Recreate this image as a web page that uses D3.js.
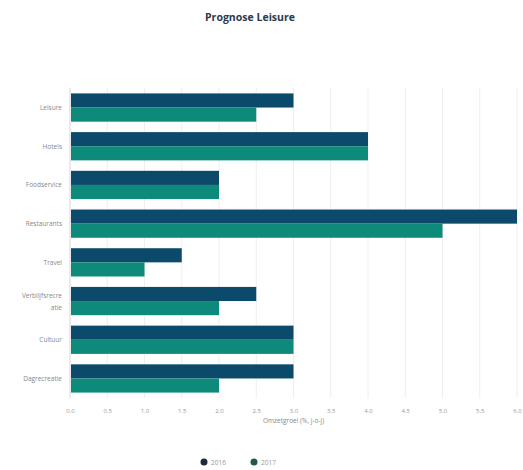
<!DOCTYPE html>
<html><head><meta charset="utf-8">
<script src="https://cdn.jsdelivr.net/npm/d3@7"></script>
<style>body{margin:0;background:#fff;} text{font-family:"Open Sans",sans-serif;}</style>
</head><body>
<svg id="c" width="523" height="470"></svg>
<script>
const categories = ["Leisure","Hotels","Foodservice","Restaurants","Travel","Verblijfsrecreatie","Cultuur","Dagrecreatie"];
const categoryLines = [["Leisure"],["Hotels"],["Foodservice"],["Restaurants"],["Travel"],["Verblijfsrecre","atie"],["Cultuur"],["Dagrecreatie"]];
const series2016 = [3.0,4.0,2.0,6.0,1.5,2.5,3.0,3.0];
const series2017 = [2.5,4.0,2.0,5.0,1.0,2.0,3.0,2.0];
const seriesNames = ["2016","2017"];
const colors = ["#0c4a6b","#0e8a7b"];
const tickValues = [0,0.5,1,1.5,2,2.5,3,3.5,4,4.5,5,5.5,6];
const title = "Prognose Leisure";
const xTitle = "Omzetgroei (%, j-o-j)";

const svg = d3.select("#c");
const m = {l:70, r:6, t:88, b:72};
const W = 523, H = 470;
const x = d3.scaleLinear().domain([0,6]).range([m.l, W-m.r]);
const y = d3.scaleBand().domain(categories).range([m.t, H-m.b]).paddingInner(0.27).paddingOuter(0.14);
const ys = d3.scaleBand().domain(seriesNames).range([0, y.bandwidth()]);

svg.append("text").attr("x", 250).attr("y", 21).attr("text-anchor","middle")
  .attr("font-size", 11).attr("font-weight", 700).attr("fill","#2b3a4a")
  .attr("textLength", 90).attr("lengthAdjust","spacingAndGlyphs")
  .style("font-family","'Open Sans',sans-serif").text(title);

// grid
svg.append("g").selectAll("line").data(tickValues).join("line")
  .attr("x1", d=>x(d)).attr("x2", d=>x(d)).attr("y1", m.t).attr("y2", H-m.b)
  .attr("stroke","#eeeeee").attr("stroke-width",1);

// x axis
const xa = svg.append("g").attr("transform",`translate(0,${H-m.b})`)
  .call(d3.axisBottom(x).tickValues(tickValues).tickFormat(d3.format(".1f")).tickSize(0).tickPadding(11));
xa.select(".domain").remove();
xa.selectAll("text").attr("font-size",6).attr("fill","#999");

svg.append("text").attr("x", (m.l + W - m.r)/2).attr("y", H-m.b+25).attr("text-anchor","middle")
  .attr("font-size",6.5).attr("fill","#888").text(xTitle);

// y axis line
svg.append("line").attr("x1", m.l).attr("x2", m.l).attr("y1", m.t).attr("y2", H-m.b).attr("stroke","#ddd");

// y labels
const yl = svg.append("g");
categories.forEach((c,i)=>{
  const lines = categoryLines[i];
  const cy = y(c) + y.bandwidth()/2;
  const t = yl.append("text").attr("x", m.l-8).attr("text-anchor","end").attr("font-size",6.5).attr("fill","#888");
  lines.forEach((ln,j)=>{
    t.append("tspan").attr("x", m.l-8).attr("y", cy + 2.5 + (j-(lines.length-1)/2)*12).text(ln);
  });
});

// bars
const data = [series2016, series2017];
data.forEach((vals, si)=>{
  svg.append("g").selectAll("rect").data(vals).join("rect")
    .attr("x", x(0)+1).attr("y", (d,i)=>y(categories[i]) + ys(seriesNames[si]))
    .attr("width", d=>x(d)-x(0)-1).attr("height", ys.bandwidth())
    .attr("fill", colors[si]);
});

// legend
const lg = svg.append("g");
const lx = [204, 254];
seriesNames.forEach((n,i)=>{
  lg.append("circle").attr("cx", lx[i]).attr("cy", 462).attr("r",3.5).attr("fill", i===0?"#1c2a3a":"#1f5a4a");
  lg.append("text").attr("x", lx[i]+7).attr("y", 464.5).attr("font-size",6.5).attr("fill","#999").text(n);
});
</script>
</body></html>
